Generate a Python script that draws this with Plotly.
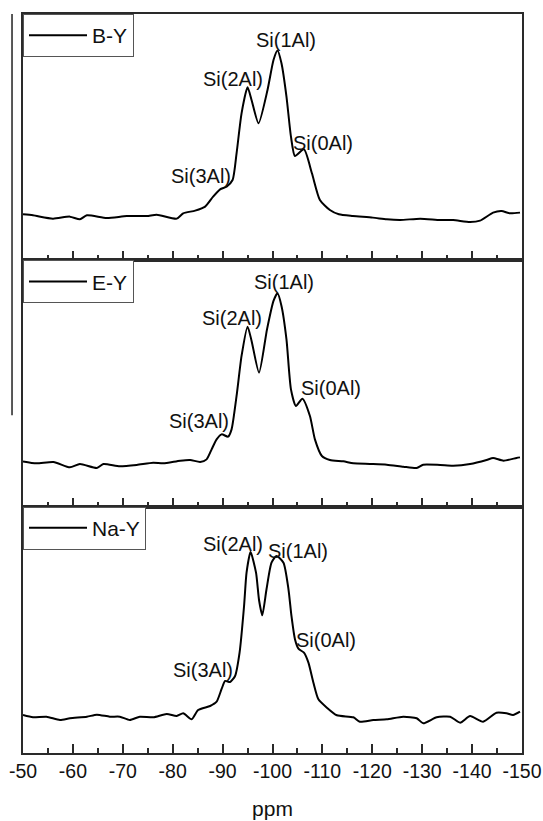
import plotly.graph_objects as go
from plotly.subplots import make_subplots

# ---- data (ppm, intensity in arbitrary units) ----
by_ppm = [-50.0, -52.0, -56.0, -59.4, -61.4, -62.8, -66.8, -70.8, -74.8, -76.8, -80.8, -82.1,
          -84.5, -86.5, -88.1, -89.5, -90.8, -92.0, -92.8, -93.8, -95.0, -95.8, -97.2, -99.0,
          -100.2, -101.0, -101.8, -102.8, -103.7, -104.5, -106.3, -107.9, -109.5, -111.5,
          -113.3, -116.1, -120.1, -122.9, -125.6, -129.6, -133.6, -136.2, -139.6, -141.6,
          -144.2, -145.9, -147.6, -149.6]
by_int = [46, 45, 41.7, 43.7, 41, 45, 42.3, 44.3, 44.3, 45.7, 41.7, 47,
          49.7, 53.7, 63.7, 71, 73.7, 80.3, 107, 147, 173, 160.3, 137, 170.3,
          200.3, 209.7, 197, 163.7, 123.7, 104.3, 111, 87, 60.3, 50.3,
          46, 44.3, 42.7, 41, 40.3, 41.7, 40.3, 40.3, 38.3, 39.7,
          47.7, 49.3, 47, 47.7]

ey_ppm = [-50.0, -52.7, -56.1, -59.4, -61.4, -64.8, -66.1, -69.4, -72.8, -76.1, -78.1, -81.5,
          -83.5, -85.5, -86.8, -87.8, -88.8, -89.8, -91.1, -91.8, -92.8, -93.8, -95.0, -95.8,
          -97.3, -98.9, -100.2, -101.0, -101.8, -102.8, -103.7, -104.7, -106.0, -107.5, -108.5,
          -109.9, -111.5, -114.2, -116.2, -119.5, -122.9, -126.2, -128.9, -130.2, -133.6,
          -136.2, -139.6, -142.9, -144.2, -146.3, -148.9, -149.6]
ey_int = [45.3, 43.3, 44.7, 39.3, 42.7, 38.7, 42.7, 40.3, 41.7, 44, 43.3, 46,
          46.7, 44.7, 47.3, 57.3, 67.3, 72.3, 70, 77.3, 110.7, 150.7, 180, 166,
          134, 177.3, 205.7, 213.3, 200.7, 167.3, 117.3, 100.7, 108, 90.7, 67.3,
          50.7, 46.7, 45.3, 43.3, 42.7, 42, 40, 38.7, 42, 41.7,
          41, 42.7, 46.7, 48.7, 46, 48.7, 49.3]

nay_ppm = [-50.0, -52.0, -54.7, -57.4, -59.4, -62.8, -64.8, -67.4, -69.4, -71.4, -73.4, -76.1,
           -78.8, -80.8, -82.1, -83.8, -85.1, -87.5, -88.8, -89.8, -90.5, -91.5, -92.5, -93.4,
           -94.3, -94.8, -95.6, -96.7, -97.3, -97.95, -98.8, -99.8, -100.8, -102.2, -103.2,
           -103.8, -104.5, -105.2, -106.3, -107.2, -108.2, -109.2, -110.9, -112.9, -116.2,
           -117.5, -120.2, -122.9, -126.2, -128.9, -130.2, -132.9, -135.6, -137.6, -139.6,
           -142.2, -144.9, -146.9, -148.2, -149.6]
nay_int = [38, 35.7, 36.3, 33, 34.7, 36.3, 38.3, 36.3, 36.3, 33, 36.3, 35.7,
           39, 37, 39.7, 33.7, 43, 47, 51.3, 64, 72, 71, 77, 100.3,
           147, 180.3, 201, 180.3, 153, 137.7, 163.7, 190.3, 197, 190.3, 163.7,
           137, 113.7, 104.3, 100.3, 90.3, 70.3, 53.7, 45.3, 37.7, 35.7,
           31.3, 33, 33.7, 36.3, 34.7, 29.7, 35.7, 36.3, 30.3, 37,
           31.3, 40.3, 39.7, 38, 41.3]

samples = ["B-Y", "E-Y", "Na-Y"]
series_ppm = [by_ppm, ey_ppm, nay_ppm]
series_int = [by_int, ey_int, nay_int]

peak_labels = ["Si(3Al)", "Si(2Al)", "Si(1Al)", "Si(0Al)"]
label_ppm = [[-85.7, -92.1, -102.8, -110.1],
             [-85.2, -91.9, -102.4, -111.7],
             [-86.0, -92.0, -105.1, -110.7]]
label_int = [[84, 181, 220.5, 117],
             [85.5, 188.5, 225, 119],
             [83.3, 209, 202, 112.5]]

tick_vals = list(range(-50, -151, -10))
tick_text = [str(v) for v in tick_vals]

FONT = "Liberation Sans, Arial, Helvetica, sans-serif"
FRAME = "#2a2a2a"

fig = make_subplots(rows=3, cols=1, shared_xaxes=True, vertical_spacing=0)

legend_names = ["legend", "legend2", "legend3"]
for i in range(3):
    fig.add_trace(go.Scatter(x=series_ppm[i], y=series_int[i], mode="lines",
                             line=dict(color="black", width=2, shape="spline", smoothing=0.6),
                             name=samples[i], legend=legend_names[i]),
                  row=i + 1, col=1)
    for lab, xp, yp in zip(peak_labels, label_ppm[i], label_int[i]):
        fig.add_annotation(x=xp, y=yp, text=lab, showarrow=False,
                           xref=f"x{i+1}" if i else "x", yref=f"y{i+1}" if i else "y",
                           font=dict(family=FONT, size=20, color="#111"))

for i in range(3):
    fig.update_xaxes(row=i + 1, col=1, range=[-50, -150], showline=True, linecolor=FRAME,
                     linewidth=2, mirror=True, ticks="inside", ticklen=9, tickwidth=1.6,
                     tickcolor=FRAME, tickvals=tick_vals, ticktext=tick_text,
                     showticklabels=(i == 2), showgrid=False, zeroline=False, automargin=False,
                     minor=dict(ticks="inside", ticklen=5, tickwidth=1.6, tickcolor=FRAME,
                                dtick=5, tick0=-55, showgrid=False),
                     tickfont=dict(family=FONT, size=19.5, color="#111"))
    fig.update_yaxes(row=i + 1, col=1, range=[0, 246.3], showline=True, linecolor=FRAME,
                     linewidth=2, mirror=True, ticks="", showticklabels=False, automargin=False,
                     showgrid=False, zeroline=False)

fig.update_xaxes(row=3, col=1, title=dict(text="ppm", font=dict(family=FONT, size=21, color="#111"),
                                          standoff=20))

legend_tops = [1.0, 2 / 3, 1 / 3]
leg_style = dict(x=0, xanchor="left", yanchor="top", bgcolor="white",
                 bordercolor="#555", borderwidth=1,
                 font=dict(family=FONT, size=21, color="#111"),
                 itemwidth=58, tracegroupgap=0)
fig.update_layout(
    legend=dict(y=legend_tops[0], **leg_style),
    legend2=dict(y=legend_tops[1], **leg_style),
    legend3=dict(y=legend_tops[2], **leg_style),
)

# stray vertical line at the left edge of the original figure
fig.add_shape(type="line", xref="paper", yref="paper", x0=-0.022, x1=-0.022, y0=0.457, y1=1.0,
              line=dict(color="#222", width=1.5))

fig.update_layout(width=543, height=821, margin=dict(l=23, r=21, t=14, b=68),
                  paper_bgcolor="white", plot_bgcolor="white", showlegend=True)

fig.write_html("out.html")
